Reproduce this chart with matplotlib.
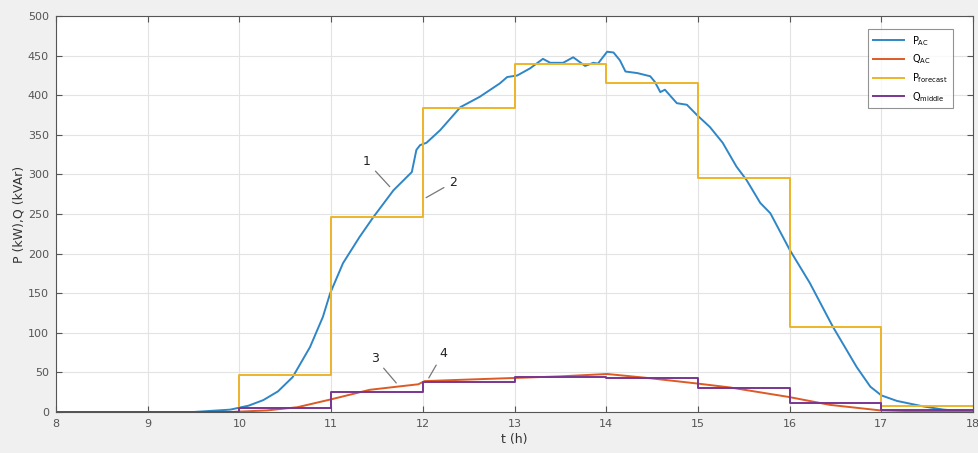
"""
Plot of measured and forecast PV active / reactive power.
"""

import matplotlib.pyplot as plt

# measured active power P_AC (kW)
t_pac = [8.0, 9.0, 9.5, 9.9, 10.1, 10.26, 10.42, 10.58, 10.77, 10.91, 10.99, 11.13, 11.31, 11.46,
         11.68, 11.88, 11.93, 11.97, 12.04, 12.19, 12.41, 12.62, 12.84, 12.92, 13.03,
         13.17, 13.31, 13.39, 13.53, 13.64, 13.77, 13.86, 13.91, 14.01, 14.08, 14.15,
         14.21, 14.34, 14.48, 14.53, 14.59, 14.64, 14.77, 14.88, 14.99, 15.13, 15.27,
         15.42, 15.53, 15.68, 15.79, 16.0, 16.22, 16.47, 16.73, 16.88, 17.0, 17.17,
         17.46, 17.68, 18.0]
p_ac = [0, -1, 0, 3, 8, 15, 26, 44, 82, 120, 150, 188, 221, 246,
        280, 303, 331, 337, 340, 356, 385, 398, 415, 423, 425,
        434, 446, 441, 441, 448, 437, 441, 440, 455, 454, 444,
        430, 428, 424, 417, 404, 407, 390, 388, 375, 360, 340,
        310, 293, 264, 251, 205, 163, 108, 57, 32, 21, 14,
        7, 3, 0]

# measured reactive power Q_AC (kVAr)
t_qac = [8.0, 9.9, 10.3, 10.63, 11.0, 11.42, 11.72, 11.95, 12.02, 12.5, 13.0, 13.5,
         14.01, 14.45, 14.99, 15.35, 15.99, 16.44, 16.99, 17.5, 18.0]
q_ac = [0, 0, 2, 6, 16, 28, 32, 35, 39, 41, 43, 45,
        48, 43, 36, 31, 19, 9, 2, 0.5, 0]

# hourly forecast / averaged values
hours = [8, 9, 10, 11, 12, 13, 14, 15, 16, 17, 18]
p_forecast = [0, 0, 47, 246, 384, 440, 415, 295, 107, 8]
q_middle = [0, 0, 5, 25, 38, 44, 43, 30, 11, 2]

colors = ['#2f86c6', '#dd5a25', '#edb42a', '#7a3590']

fig = plt.figure(figsize=(9.79, 4.53), dpi=100, facecolor='#f0f0f0')
ax = fig.add_axes([0.0572, 0.0905, 0.9367, 0.874])

ax.plot(t_pac, p_ac, color=colors[0], lw=1.4, label=r'P$_{\mathrm{AC}}$')
ax.plot(t_qac, q_ac, color=colors[1], lw=1.4, label=r'Q$_{\mathrm{AC}}$')
ax.step(hours, p_forecast + [p_forecast[-1]], where='post', color=colors[2], lw=1.4,
        label=r'P$_{\mathrm{forecast}}$')
ax.step(hours, q_middle + [q_middle[-1]], where='post', color=colors[3], lw=1.4,
        label=r'Q$_{\mathrm{middle}}$')

# curve labels
ann = dict(color='#222222', fontsize=9)
line = dict(arrowstyle='-', color='#777777', lw=0.9)
ax.annotate('1', xy=(11.66, 282), xytext=(11.39, 316), ha='center', va='center', arrowprops=line, **ann)
ax.annotate('2', xy=(12.01, 269), xytext=(12.33, 290), ha='center', va='center', arrowprops=line, **ann)
ax.annotate('3', xy=(11.73, 34), xytext=(11.48, 68), ha='center', va='center', arrowprops=line, **ann)
ax.annotate('4', xy=(12.05, 40), xytext=(12.22, 74), ha='center', va='center', arrowprops=line, **ann)

ax.set_xlim(8, 18)
ax.set_ylim(0, 500)
ax.set_xticks(range(8, 19))
ax.set_yticks(range(0, 501, 50))
ax.grid(True, color='#e3e3e3', lw=0.8)
ax.set_axisbelow(True)
ax.tick_params(direction='in', top=True, right=True, labelsize=8, colors='#555555',
               length=4, pad=5)
for s in ax.spines.values():
    s.set_color('#555555')
    s.set_linewidth(0.8)

ax.set_xlabel('t (h)', fontsize=9, color='#333333', labelpad=3)
ax.set_ylabel('P (kW),Q (kVAr)', fontsize=9, color='#333333', labelpad=2)

leg = ax.legend(loc='upper right', fontsize=7, handlelength=3.2, frameon=True,
                fancybox=False, edgecolor='#777777', borderpad=0.5, labelspacing=0.5,
                bbox_to_anchor=(0.983, 0.98))
leg.get_frame().set_linewidth(0.8)

fig.savefig('out.png', dpi=100, facecolor=fig.get_facecolor())
